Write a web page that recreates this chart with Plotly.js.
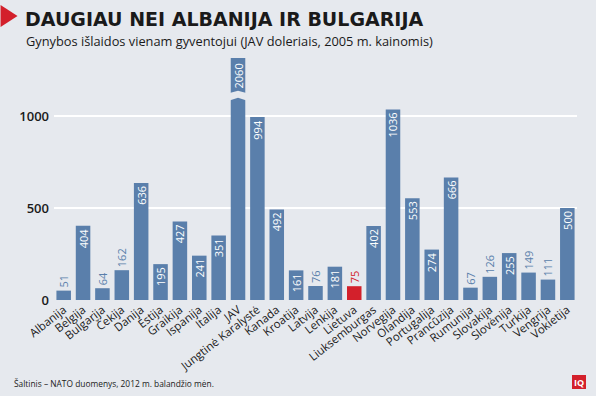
<!DOCTYPE html>
<html><head><meta charset="utf-8">
<script src="https://cdn.plot.ly/plotly-3.0.1.min.js"></script>
<style>html,body{margin:0;padding:0;background:#e6e9ee;}#c{width:596px;height:396px;}</style>
</head><body><div id="c"></div>
<script>
const countries = ["Albanija","Belgija","Bulgarija","Čekija","Danija","Estija","Graikija","Ispanija","Italija","JAV","Jungtinė Karalystė","Kanada","Kroatija","Latvija","Lenkija","Lietuva","Liuksemburgas","Norvegija","Olandija","Portugalija","Prancūzija","Rumunija","Slovakija","Slovėnija","Turkija","Vengrija","Vokietija"];
const spending = [51,404,64,162,636,195,427,241,351,2060,994,492,161,76,181,75,402,1036,553,274,666,67,126,255,149,111,500];
const labelOutside = ["Albanija","Bulgarija","Čekija","Latvija","Lietuva","Rumunija","Slovakija","Turkija","Vengrija"];
const highlight = "Lietuva";
const yTicks = [0,500,1000];

const BG = "#e6e9ee", BLUE = "#5a7fab", RED = "#d3202b";
const W=596,H=396,L=53.5,R=19,T=58,B=96;
const pw=W-L-R, ph=H-T-B;
const yMax = (H-B-T)/0.184;
const px=(x)=>(x-L)/pw, py=(y)=>(H-B-y)/ph;

const jIdx = spending.indexOf(Math.max(...spending));
const colors = countries.map(c=>c===highlight?RED:BLUE);
const textPos = countries.map(c=>labelOutside.includes(c)?"outside":"inside");
const textCol = countries.map((c,i)=>c===highlight?RED:(labelOutside.includes(c)?BLUE:"#ffffff"));
const texts = spending.map((v,i)=>i===jIdx?"":String(v));

const FONT = "Open Sans, sans-serif";
const trace = {
  type:"bar", x:countries, y:spending,
  marker:{color:colors},
  text:texts, textposition:textPos, textangle:-90,
  insidetextanchor:"end", constraintext:"none", cliponaxis:false,
  textfont:{family:FONT,size:11,color:textCol},
  hoverinfo:"none"
};

const bx0=jIdx-0.48, bx1=jIdx+0.48;
const shapes = [
  {type:"path", xref:"x", yref:"y", layer:"above",
   path:`M ${bx0},1083 L ${jIdx},1099 L ${bx1},1083 L ${bx1},1123 L ${jIdx},1137 L ${bx0},1123 Z`,
   fillcolor:BG, line:{width:0}},
  {type:"path", xref:"paper", yref:"paper",
   path:`M ${px(0)},${py(5)} L ${px(17)},${py(16)} L ${px(0)},${py(27)} Z`,
   fillcolor:RED, line:{width:0}},
  {type:"rect", xref:"paper", yref:"paper", x0:px(572), x1:px(586), y0:py(375), y1:py(389),
   fillcolor:RED, line:{width:0}}
];

const annotations = [
  {xref:"paper", yref:"paper", x:px(22), y:py(19.5), xanchor:"left", yanchor:"middle", showarrow:false,
   text:"<b>DAUGIAU NEI ALBANIJA IR BULGARIJA</b>", font:{family:"DejaVu Sans, sans-serif",size:19,color:"#1a1a1a"}},
  {xref:"paper", yref:"paper", x:px(23), y:py(41), xanchor:"left", yanchor:"middle", showarrow:false,
   text:"Gynybos išlaidos vienam gyventojui (JAV doleriais, 2005 m. kainomis)", font:{family:FONT,size:12.8,color:"#1a1a1a"}},
  {xref:"paper", yref:"paper", x:px(11), y:py(383), xanchor:"left", yanchor:"middle", showarrow:false,
   text:"Šaltinis – NATO duomenys, 2012 m. balandžio mėn.", font:{family:FONT,size:8.4,color:"#1a1a1a"}},
  {xref:"paper", yref:"paper", x:px(579), y:py(382), xanchor:"center", yanchor:"middle", showarrow:false,
   text:"<b>IQ</b>", font:{family:FONT,size:9,color:"#ffffff"}},
  {xref:"x", yref:"y", x:jIdx, y:1215, xanchor:"center", yanchor:"middle", showarrow:false, textangle:-90,
   text:String(spending[jIdx]), font:{family:FONT,size:11,color:"#ffffff"}}
];

const layout = {
  width:W, height:H, margin:{l:L,r:R,t:T,b:B,pad:0},
  paper_bgcolor:BG, plot_bgcolor:BG, showlegend:false, bargap:0.25,
  font:{family:FONT,color:"#1a1a1a"},
  xaxis:{type:"category", tickangle:-38, tickfont:{family:FONT,size:11.5,color:"#1a1a1a"},
         showgrid:false, zeroline:false, showline:false, ticks:"", automargin:false, range:[-0.5,countries.length-0.5]},
  yaxis:{range:[0,yMax], tickvals:yTicks, ticktext:yTicks.map(String), showgrid:true, gridcolor:"#ffffff", gridwidth:1.5,
         zeroline:true, zerolinecolor:BG, showline:false, ticks:"", automargin:false, ticklabelstandoff:4,
         tickfont:{family:FONT,size:13,weight:600,color:"#1a1a1a"}},
  shapes:shapes, annotations:annotations
};
Plotly.newPlot("c",[trace],layout,{staticPlot:true,displayModeBar:false});
</script></body></html>
